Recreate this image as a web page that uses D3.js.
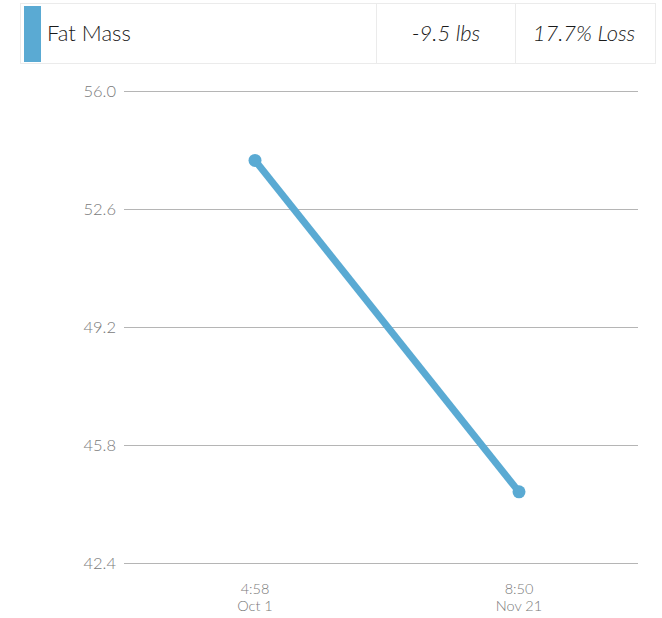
<!DOCTYPE html>
<html>
<head>
<meta charset="utf-8">
<script src="https://cdn.jsdelivr.net/npm/d3@7"></script>
<style>
  body { margin: 0; background: #fff; font-family: Lato, "Open Sans", sans-serif; }
  svg { display: block; }
</style>
</head>
<body>
<script>
const times = ['4:58', '8:50'];
const dates = ['Oct 1', 'Nov 21'];
const fatMass = [54.0, 44.45];
const yTicks = [42.4, 45.8, 49.2, 52.6, 56.0];
const headerCells = ['Fat Mass', '-9.5 lbs', '17.7% Loss'];

const width = 662;
const height = 618;
const blue = '#5aaad3';

const svg = d3.select('body').append('svg').attr('width', width).attr('height', height);

// header box
const header = svg.append('g');
header.append('rect')
  .attr('x', 20.5).attr('y', 3.5).attr('width', 635).attr('height', 60)
  .attr('fill', '#fff').attr('stroke', '#ebebeb');
header.append('rect')
  .attr('x', 24).attr('y', 6).attr('width', 17).attr('height', 56)
  .attr('fill', blue);
header.selectAll('line.div')
  .data([376.5, 515.5])
  .join('line')
  .attr('class', 'div')
  .attr('x1', d => d).attr('x2', d => d)
  .attr('y1', 4).attr('y2', 63)
  .attr('stroke', '#ebebeb');
header.append('text')
  .attr('x', 47).attr('y', 41)
  .attr('font-size', 22).attr('font-weight', 300).attr('fill', '#1a1a1a')
  .text(headerCells[0]);
header.selectAll('text.stat')
  .data(headerCells.slice(1))
  .join('text')
  .attr('class', 'stat')
  .attr('x', (d, i) => [446, 584][i]).attr('y', 41)
  .attr('text-anchor', 'middle')
  .attr('font-size', 22).attr('font-weight', 300).attr('font-style', 'italic').attr('fill', '#1a1a1a')
  .text(d => d);

// scales
const y = d3.scaleLinear().domain([42.4, 56.0]).range([563, 91]);
const x = d3.scalePoint().domain(times).range([255, 519]);

// grid + y labels
const grid = svg.append('g');
grid.selectAll('line')
  .data(yTicks)
  .join('line')
  .attr('x1', 124).attr('x2', 638)
  .attr('y1', d => Math.round(y(d)) + 0.5).attr('y2', d => Math.round(y(d)) + 0.5)
  .attr('stroke', '#b5b5b5');
grid.selectAll('text')
  .data(yTicks)
  .join('text')
  .attr('x', 116).attr('y', d => y(d) + 6)
  .attr('text-anchor', 'end')
  .attr('font-size', 16.5).attr('font-weight', 300).attr('fill', '#7a7a7a')
  .text(d => d.toFixed(1));

// x labels
const xl = svg.append('g');
times.forEach((t, i) => {
  xl.append('text')
    .attr('x', x(t)).attr('y', 594)
    .attr('text-anchor', 'middle')
    .attr('font-size', 14.5).attr('font-weight', 300).attr('fill', '#7a7a7a')
    .text(t);
  xl.append('text')
    .attr('x', x(t)).attr('y', 611)
    .attr('text-anchor', 'middle')
    .attr('font-size', 14.5).attr('font-weight', 300).attr('fill', '#7a7a7a')
    .text(dates[i]);
});

// line + points
const pts = times.map((t, i) => ({ t, v: fatMass[i] }));
const line = d3.line().x(d => x(d.t)).y(d => y(d.v));
svg.append('path')
  .datum(pts)
  .attr('d', line)
  .attr('fill', 'none')
  .attr('stroke', blue)
  .attr('stroke-width', 7);
svg.selectAll('circle')
  .data(pts)
  .join('circle')
  .attr('cx', d => x(d.t)).attr('cy', d => y(d.v))
  .attr('r', 6.5)
  .attr('fill', blue);
</script>
</body>
</html>
